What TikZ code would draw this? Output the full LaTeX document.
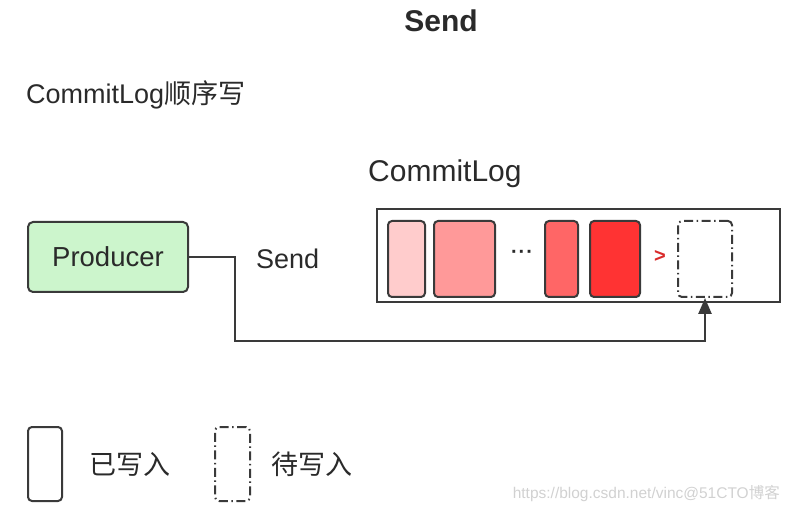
\documentclass[tikz,border=0pt]{standalone}
\usepackage{fontspec}
\setmainfont{Liberation Sans}
\newfontfamily\cjk{Noto Sans CJK SC}
\usetikzlibrary{arrows.meta}
\definecolor{edge}{HTML}{3A3A3A}
\definecolor{prodfill}{HTML}{CCF5CC}
\definecolor{bA}{HTML}{FFCCCC}
\definecolor{bB}{HTML}{FF9999}
\definecolor{bC}{HTML}{FF6666}
\definecolor{bD}{HTML}{FF3333}
\definecolor{txt}{HTML}{2A2A2A}
\tikzset{
  blk/.style={draw=edge, line width=2pt, rounded corners=4pt, inner sep=0pt},
  pend/.style={draw=edge, line width=2pt, rounded corners=4pt, inner sep=0pt,
     dash pattern=on 9pt off 3.5pt on 1.5pt off 3.5pt},
  lbl/.style={text=txt, inner sep=0pt, anchor=west},
}
\begin{document}
\begin{tikzpicture}[x=1pt,y=-1pt]
\useasboundingbox (0,0) rectangle (788,513);
% title
\node[text=txt, inner sep=0pt, font=\fontsize{30}{34}\selectfont\bfseries] (title) at (441,21) {Send};
\node[lbl, font=\fontsize{27}{30}\selectfont] (sub) at (26,95) {CommitLog{\cjk 顺序写}};
\node[lbl, font=\fontsize{30}{34}\selectfont] (cl) at (368,174) {CommitLog};
% producer
\node[draw=edge, line width=2pt, rounded corners=5pt, fill=prodfill, minimum width=160pt, minimum height=70pt,
  inner sep=0pt, font=\fontsize{27.5}{30}\selectfont, text=txt] (prod) at (108,257) {Producer};
\node[lbl, font=\fontsize{27}{30}\selectfont] (sendlbl) at (256,259) {Send};
% commitlog container
\node[draw=edge, line width=2.5pt, minimum width=403pt, minimum height=93pt, inner sep=0pt] (log) at (578.5,255.5) {};
% blocks
\node[blk, fill=bA, minimum width=37pt, minimum height=76pt] (b1) at (406.5,259) {};
\node[blk, fill=bB, minimum width=61pt, minimum height=76pt] (b2) at (464.5,259) {};
\node[inner sep=0pt, text=txt, font=\fontsize{20}{24}\selectfont\bfseries] (dots) at (522,254) {·\kern1pt·\kern1pt·};
\node[blk, fill=bC, minimum width=33pt, minimum height=76pt] (b3) at (561.5,259) {};
\node[blk, fill=bD, minimum width=50pt, minimum height=76pt] (b4) at (615,259) {};
\node[inner sep=0pt, text=bD!85!black, font=\fontsize{20}{24}\selectfont\bfseries] (gt) at (660,256) {>};
\node[pend, minimum width=54pt, minimum height=76pt] (b5) at (705,259) {};
% connector
\coordinate (c1) at (235,257);
\coordinate (c2) at (235,341);
\draw[edge, line width=2.5pt, -{Triangle[length=16pt,width=13pt]}]
  (prod.east) -- (c1) -- (c2) -| (b5.south);
% legend
\node[blk, fill=white, minimum width=34pt, minimum height=74pt] (lg1) at (45,464) {};
\node[lbl, font=\fontsize{27}{30}\selectfont\cjk] (lg1t) at (89,464) {已写入};
\node[pend, minimum width=35pt, minimum height=74pt] (lg2) at (232.5,464) {};
\node[lbl, font=\fontsize{27}{30}\selectfont\cjk] (lg2t) at (271,464) {待写入};
% watermark
\node[anchor=east, inner sep=0pt, text=black!18, font=\fontsize{15.5}{18}\selectfont] (wm) at (780,494) {https://blog.csdn.net/vinc@51CTO{\cjk 博客}};
\end{tikzpicture}
\end{document}
